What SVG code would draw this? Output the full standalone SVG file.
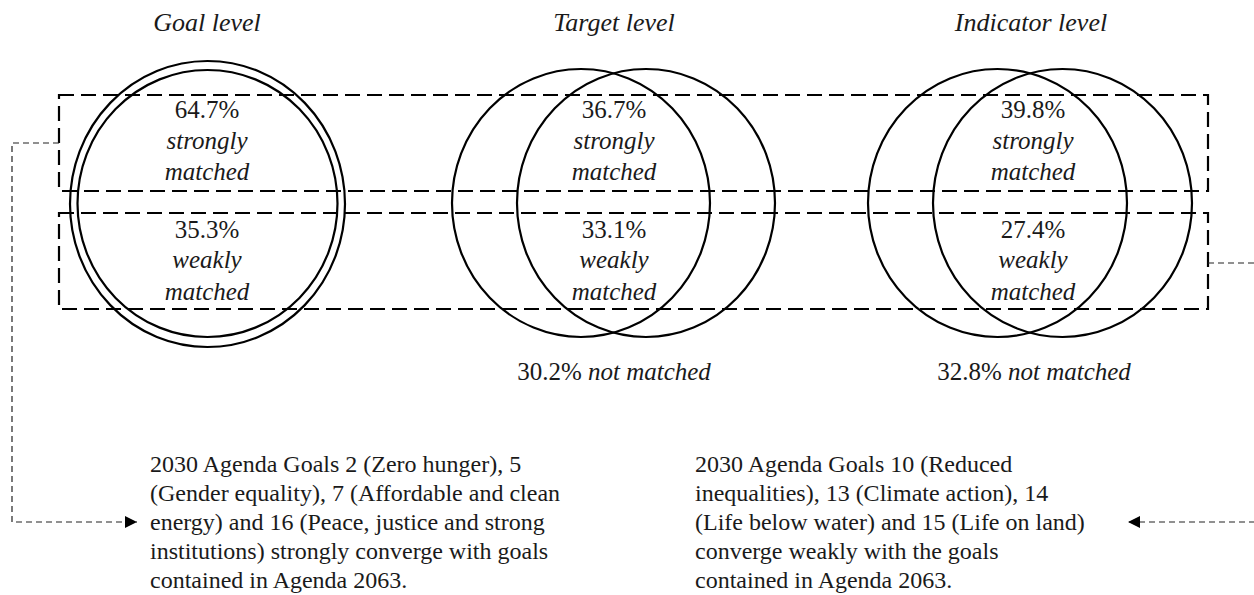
<svg xmlns="http://www.w3.org/2000/svg" width="1254" height="595" viewBox="0 0 1254 595">
<defs>
<style>
.t{font-family:"Liberation Serif","Times New Roman",serif;fill:#1a1a1a}
.i{font-style:italic}
.title{font-size:26px;font-style:italic}
.lab{font-size:25px;text-anchor:middle}
.body{font-size:24px}
.c{fill:none;stroke:#000;stroke-width:2.2}
.box{fill:none;stroke:#000;stroke-width:2.2;stroke-dasharray:15 7}
.con{fill:none;stroke:#222;stroke-width:1.2;stroke-dasharray:6 4}
</style>
<marker id="ah" viewBox="0 0 10 10" refX="10" refY="5" markerWidth="12" markerHeight="12" markerUnits="userSpaceOnUse" orient="auto">
<path d="M0,0 L10,5 L0,10 z" fill="#000"/>
</marker>
</defs>
<rect width="1254" height="595" fill="#fff"/>

<g id="titles">
<text class="t title" x="207" y="31" text-anchor="middle">Goal level</text>
<text class="t title" x="614" y="31" text-anchor="middle">Target level</text>
<text class="t title" x="1031" y="31" text-anchor="middle">Indicator level</text>
</g>

<g id="goal-circle">
<ellipse class="c" cx="207.5" cy="204" rx="137.5" ry="143"/>
<ellipse class="c" cx="207.5" cy="203.5" rx="130" ry="133.5"/>
</g>
<g id="target-circles">
<ellipse class="c" cx="581" cy="203" rx="129" ry="134"/>
<ellipse class="c" cx="646" cy="203" rx="129" ry="134"/>
</g>
<g id="indicator-circles">
<ellipse class="c" cx="997.5" cy="203" rx="129.5" ry="134"/>
<ellipse class="c" cx="1062.5" cy="203" rx="129.5" ry="134"/>
</g>

<g id="strong-box"><rect class="box" x="59" y="95" width="1149" height="96"/></g>
<g id="weak-box"><rect class="box" x="59" y="213" width="1149" height="96"/></g>

<g id="goal-labels" class="t lab">
<text x="207" y="118">64.7%</text>
<text x="207" y="149" class="i">strongly</text>
<text x="207" y="180" class="i">matched</text>
<text x="207" y="238">35.3%</text>
<text x="207" y="268" class="i">weakly</text>
<text x="207" y="300" class="i">matched</text>
</g>
<g id="target-labels" class="t lab">
<text x="614" y="118">36.7%</text>
<text x="614" y="149" class="i">strongly</text>
<text x="614" y="180" class="i">matched</text>
<text x="614" y="238">33.1%</text>
<text x="614" y="268" class="i">weakly</text>
<text x="614" y="300" class="i">matched</text>
<text x="614" y="380">30.2% <tspan class="i">not matched</tspan></text>
</g>
<g id="indicator-labels" class="t lab">
<text x="1033" y="118">39.8%</text>
<text x="1033" y="149" class="i">strongly</text>
<text x="1033" y="180" class="i">matched</text>
<text x="1033" y="238">27.4%</text>
<text x="1033" y="268" class="i">weakly</text>
<text x="1033" y="300" class="i">matched</text>
<text x="1034" y="380">32.8% <tspan class="i">not matched</tspan></text>
</g>

<g id="connectors">
<path class="con" d="M59,143 H12 V522 H137" marker-end="url(#ah)"/>
<path class="con" d="M1208,263 H1262 V522 H1128" marker-end="url(#ah)"/>
</g>

<g id="strong-note" class="t body">
<text x="150" y="472">2030 Agenda Goals 2 (Zero hunger), 5</text>
<text x="150" y="501">(Gender equality), 7 (Affordable and clean</text>
<text x="150" y="530">energy) and 16 (Peace, justice and strong</text>
<text x="150" y="559">institutions) strongly converge with goals</text>
<text x="150" y="588">contained in Agenda 2063.</text>
</g>
<g id="weak-note" class="t body">
<text x="695" y="472">2030 Agenda Goals 10 (Reduced</text>
<text x="695" y="501">inequalities), 13 (Climate action), 14</text>
<text x="695" y="530">(Life below water) and 15 (Life on land)</text>
<text x="695" y="559">converge weakly with the goals</text>
<text x="695" y="588">contained in Agenda 2063.</text>
</g>
</svg>
